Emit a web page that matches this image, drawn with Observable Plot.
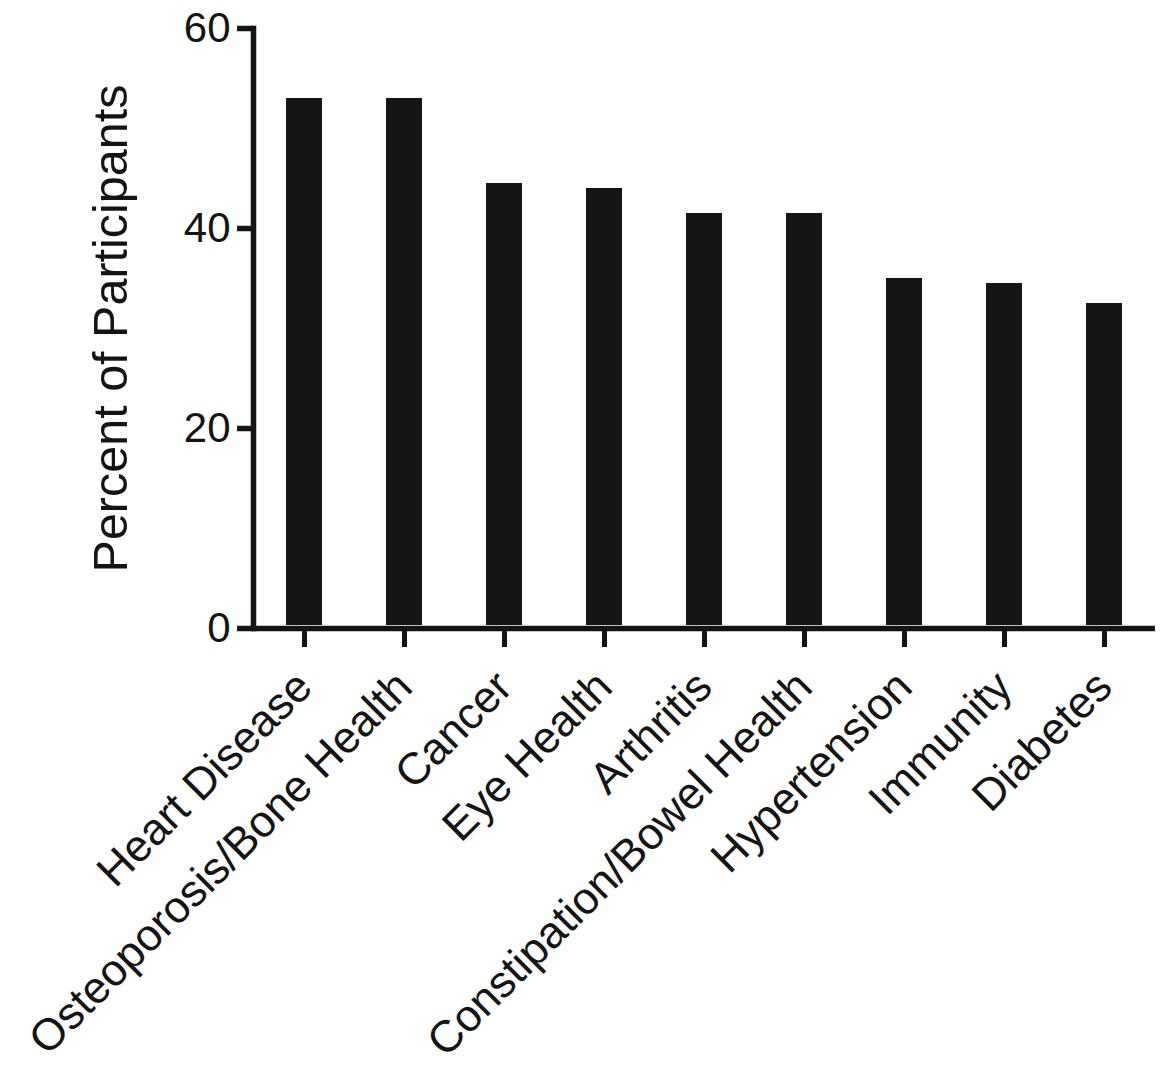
<!DOCTYPE html>
<html>
<head>
<meta charset="utf-8">
<script src="https://cdn.jsdelivr.net/npm/d3@7"></script>
<script src="https://cdn.jsdelivr.net/npm/@observablehq/plot@0.6"></script>
<style>
  html, body { margin: 0; padding: 0; background: #fff; }
  #chart svg { font-family: "Liberation Sans", Arial, sans-serif; }
</style>
</head>
<body>
<div id="chart"></div>
<script>
const categories = ["Heart Disease", "Osteoporosis/Bone Health", "Cancer", "Eye Health", "Arthritis", "Constipation/Bowel Health", "Hypertension", "Immunity", "Diabetes"];
const percents = [53, 53, 44.5, 44, 41.5, 41.5, 35, 34.5, 32.5];
const yTicks = [0, 20, 40, 60];
const yLabel = "Percent of Participants";

const data = categories.map((c, i) => ({category: c, value: percents[i]}));
const ink = "#141414";

const chart = Plot.plot({
  width: 1167,
  height: 1069,
  marginLeft: 253,
  marginRight: 12,
  marginTop: 28,
  marginBottom: 441,
  style: {fontFamily: "'Liberation Sans', Arial, sans-serif", color: ink, background: "#fff"},
  x: {domain: categories, paddingInner: 0.64, paddingOuter: 0.33},
  y: {domain: [0, 60]},
  marks: [
    Plot.barY(data, {x: "category", y: "value", fill: ink, insetBottom: 3}),
    Plot.frame({anchor: "left", stroke: ink, strokeWidth: 5.5}),
    Plot.ruleY([0], {stroke: ink, strokeWidth: 5.5}),
    Plot.axisY({ticks: yTicks, tickSize: 16, tickPadding: 7, strokeWidth: 5.5, stroke: ink, fontSize: 42, fill: ink, label: null}),
    Plot.text([yLabel], {frameAnchor: "left", rotate: -90, dx: -161, lineAnchor: "top", textAnchor: "middle", fontSize: 48.5, fill: ink}),
    Plot.axisX({tickSize: 19, strokeWidth: 5, stroke: ink, tickRotate: -45, fontSize: 44.5, fill: ink, tickPadding: 32, label: null})
  ]
});
document.getElementById("chart").appendChild(chart);
</script>
</body>
</html>
